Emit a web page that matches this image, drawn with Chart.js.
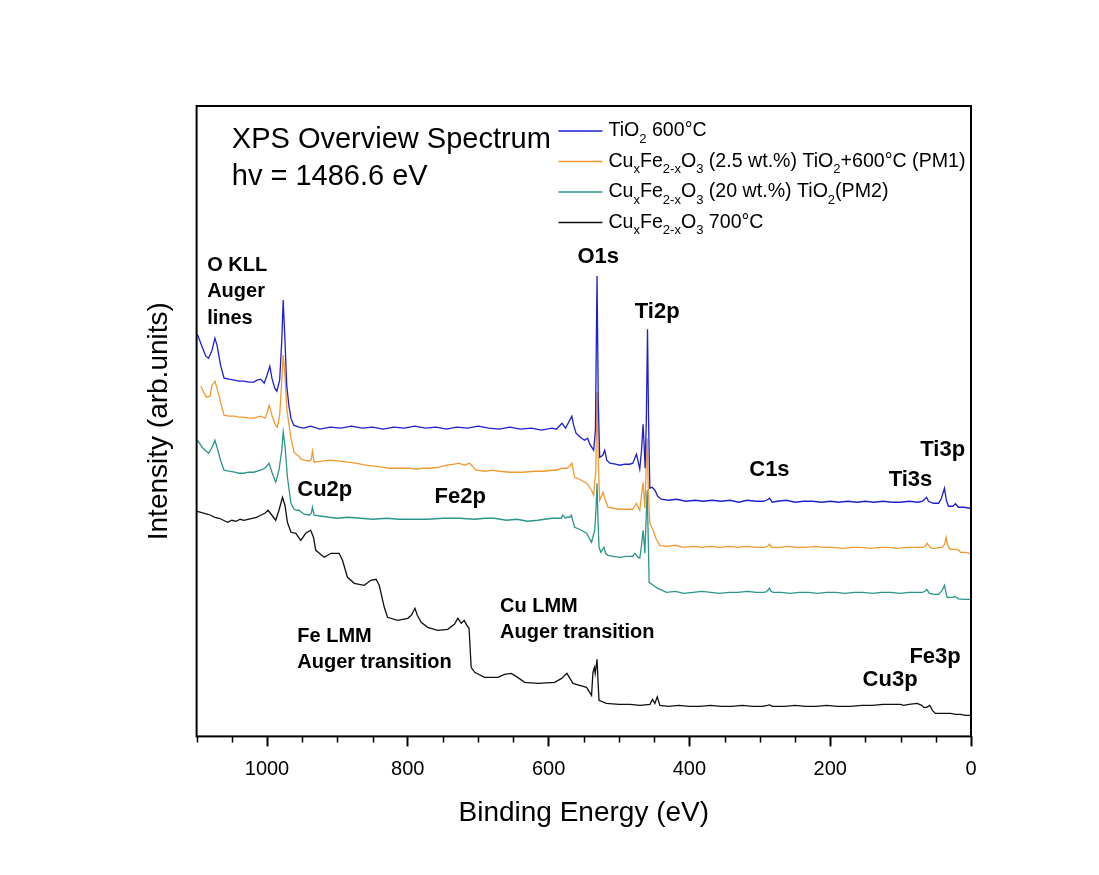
<!DOCTYPE html>
<html>
<head>
<meta charset="utf-8">
<title>XPS Overview Spectrum</title>
<script src="https://cdn.jsdelivr.net/npm/chart.js@4.4.1/dist/chart.umd.min.js"></script>
<style>
  html, body { margin: 0; padding: 0; background: #fff; }
  canvas { display: block; }
</style>
</head>
<body>
<canvas id="chart" width="1099" height="875"></canvas>
<script>
// spectra as [binding energy (eV), intensity (arb. units)]
const tio2_600 = [
  [1099,402],[1093,391],[1087,380],[1083,378],[1078,386],[1074,398],[1071,391],[1066,371],[1061,358],
  [1054,357],[1046,356],[1040,355],[1033,355],[1026,354],[1019,354],[1014,356],[1009,357],[1004,353],
  [1000,361],[996,370],[993,358],[989,348],[986,345],[982,356],[979,396],[977,436],[974.5,396],[972,351],
  [969,331],[966,318],[962,311],[955,309],[948,308],[938,310],[925,307],[910,309],[895,308],[880,310],
  [865,308],[850,309],[835,307],[820,309],[805,308],[790,310],[775,308],[760,309],[745,307],[730,309],
  [715,308],[700,310],[685,308],[670,307],[655,309],[640,307],[625,308],[610,306],[595,308],[589,307],
  [581,313],[576,308],[571.5,314],[567,320],[564.5,311],[561,303],[555,299],[549,296],[544.5,298],
  [541.5,292],[536,286],[533.5,306],[531.2,460],[529.5,336],[527.4,279],[523,281],[520.3,286],[517.4,276],
  [513,273],[505,272],[499,271],[492,272],[485,272],[480.4,273],[475.2,282],[472.6,274],[470.5,267],
  [468,286],[465.8,312],[464,286],[462.9,268],[461.2,316],[459.5,407],[458,316],[456.2,248],[453,249],
  [449,246],[445,240],[440,237],[430,236],[418,237],[405,235],[392,236],[380,235],[368,236],[355,235],
  [342,236],[330,234],[318,236],[305,235],[295,235],[291,236],[288,237],[286.4,238],[284,236],[282.6,234],
  [275,235],[262,236],[250,234],[238,235],[225,235],[212,234],[200,235],[188,234],[175,235],[162,234],
  [150,235],[138,234],[125,235],[112,234],[100,234],[88,235],[75,234],[69,235],[66,237],[63,239],
  [60.5,235],[53.4,233],[46,233],[42,238],[37.7,248],[35,236],[32,230],[26,230],[22,232.5],[17.8,229],
  [10.7,229],[2,228],[0,228]
];

const cufe_pm1 = [
  [1094,350],[1090,344],[1086,339],[1081,340],[1078,351],[1074,355],[1071,348],[1066,334],[1061,321],
  [1054,320],[1046,320],[1040,319],[1033,319],[1026,318],[1019,318],[1014,319],[1008,320],[1003,318],
  [999.6,324],[997,331],[993,321],[988.6,312],[985.3,309],[982,321],[979,356],[977,381],[974.5,361],
  [971.7,326],[966,298],[961.6,284],[957,281],[954.5,280],[951.6,277],[947,276],[940,275],[937,277],
  [935.5,285],[933,274],[922,275],[910,276],[897,275],[885,274],[874,273],[860,271],[848,270],[836,269],
  [826,268],[812,268],[798,268],[788,267],[779,268],[767,268],[755,269],[745,271],[734,272],[727,273],
  [720,271],[712,273],[703,266],[690,265],[680,266],[670,265],[655,264],[637,264],[620,265],[606,265],
  [595,266],[589,266],[580.5,268],[574,268],[570,270],[567,273],[563,259],[556,257],[546,253],[539,246],
  [536,241],[533,266],[531.2,344],[529.5,276],[527.4,236],[522.7,244],[520.3,238],[515.6,229],[508,228],
  [499,227],[490,227],[480.4,227],[475.2,233],[470.5,226],[468,241],[465.8,254],[463.3,228],[461.5,266],
  [460,298],[458.4,246],[456.2,213],[451.5,206],[447.7,198],[442,191],[432,190],[420,191],[408,189],
  [395,190],[382,189],[370,190],[357,189],[344,190],[331,189],[318,190],[305,189],[294,189],[289,190],
  [286.4,192],[283,189],[272,189],[260,190],[247,189],[234,189],[221,190],[208,189],[195,189],[182,188],
  [169,189],[156,189],[143,188],[130,189],[117,189],[104,188],[91,189],[78,189],[69,189],[65,190],
  [62.3,193],[59,189.5],[55,188],[50.5,188],[44,189],[40.6,189],[37.5,192],[35.3,199],[33.5,192],
  [32,189],[29,187],[24,187],[20.6,187],[17,186],[15,184],[8,184],[2,183],[0,183]
];

const cufe_pm2 = [
  [1099,296],[1091,288],[1083,283],[1078,289],[1074,296],[1071,289],[1066,276],[1061,266],[1054,265],
  [1046,264],[1040,263],[1033,263],[1026,264],[1019,264],[1009,266],[1003,268],[997,273],[993,264],
  [987.6,254],[983,266],[979,286],[977,304],[974.5,291],[971,259],[966,233],[961.6,227],[957,226],
  [954.5,226],[951,224],[947,222],[940,221],[937,223],[935.5,229],[933,221],[922,220],[912,219],[900,218],
  [885,219],[867,218],[850,217],[830,218],[812,217],[795,217],[772,217],[750,218],[727,218],[705,217],
  [690,218],[677,218],[660,216],[645,217],[630,215],[615,216],[606,217],[595,218],[582,218],[580,221],
  [576,218],[574,219],[570,219],[567.7,221],[563,209],[556,207],[546,203],[539,194],[534.5,206],
  [532.7,226],[531.2,253],[529.8,216],[528.4,189],[525.7,184],[521.3,189],[519,183],[515.6,181],[508,180],
  [499,179],[490,180],[480.4,180],[477.6,183],[473,179],[470.5,178],[468,191],[465.8,206],[464,191],
  [463.3,183],[461.5,216],[460,246],[458.4,196],[457.2,154],[451.5,151],[444.8,148],[432.5,144],
  [420,145],[408,143],[395,144],[382,145],[370,144],[357,143],[344,144],[331,144],[318,145],[305,144],
  [295,144],[291,144.5],[288.5,146],[286.4,148],[284,145],[281,144],[270,144],[257,143],[244,144],
  [231,144],[218,143],[205,144],[192,144],[179,143],[166,144],[153,144],[140,143],[127,144],[114,144],
  [101,143],[88,144],[75,144],[69,144],[65.5,145],[63,147],[59,143],[52,142],[46,142],[41,146],
  [37.7,151],[35.5,144],[34,139],[27.8,139],[25,139],[23,140],[17.8,137.5],[10,137],[2,137],[0,137]
];

const cufe_700 = [
  [1099,225],[1094,224],[1089,223],[1084,222],[1080,221],[1074,219],[1068,218],[1062,216],[1056,214],
  [1050,216],[1044,215],[1038,217],[1033,216],[1027,217],[1021,218],[1015,219],[1009,221],[1003,223],
  [998.5,226],[993,221],[987.6,216],[983,226],[978,239],[974.5,231],[971,214],[966,204],[959,203],
  [952,196],[945,203],[938,206],[934,199],[930.7,186],[918.8,179],[909,183],[897.5,183],[892.8,176],
  [885.7,159],[876,153],[862,151],[852.4,156],[845,157],[840.6,151],[833.4,129],[828.8,119],[814.5,116],
  [800,118],[795,121],[789.8,128],[786.5,121],[781,114],[771.8,109],[757.6,106],[743.4,107],[733.8,112],
  [729,118],[724,113],[720,116],[716,111],[713,108],[710,69],[705,64],[691,59],[672,59],[662.6,62],
  [653,63],[644,59],[634,54],[615,53],[591.5,54],[581.5,58],[574,63],[565.4,53],[556,51],[546,49],
  [539,41],[537,64],[535,69],[533.8,63],[531.2,77],[529.5,51],[528.4,36],[518,33],[500,32],[484.7,32],
  [470,31],[456,32],[452.4,37],[449,33],[445.6,39.5],[442,31],[430,30],[415,31],[400,30],[385,30],
  [370,31],[355,30],[340,30],[325,31],[310,30],[296,30],[289,31],[286.4,31.5],[282,30],[265,30],
  [250,31],[235,30],[220,30],[205,31],[190,30],[171.5,30],[155,31],[140,31],[125,32],[110,32],
  [100,32],[96,31],[88,32],[76.6,33],[70,31],[67,29],[63,29],[58.6,31],[54.8,26],[50.5,23],[44,23],
  [38.7,23],[29,23],[22,22],[15,22],[8,21],[2,21],[0,21]
];

// legend text, "_{..}" marks a subscript
const seriesLabels = [
  'TiO_{2} 600°C',
  'Cu_{x}Fe_{2-x}O_{3} (2.5 wt.%) TiO_{2}+600°C (PM1)',
  'Cu_{x}Fe_{2-x}O_{3} (20 wt.%) TiO_{2}(PM2)',
  'Cu_{x}Fe_{2-x}O_{3} 700°C'
];
const seriesColors = ['#1e1ed2', '#f29a30', '#2a958b', '#111111'];

const xTickValues = [0, 200, 400, 600, 800, 1000];
const xMinorTicks = [50, 100, 150, 250, 300, 350, 450, 500, 550, 650, 700, 750, 850, 900, 950, 1050, 1100];

const FONT = "'Liberation Sans', Arial, Helvetica, sans-serif";

// peak / transition labels placed at (binding energy, intensity)
const peakLabels = [
  { lines: ['O KLL', 'Auger', 'lines'], at: [1085, 471], size: 20 },
  { lines: ['O1s'], at: [559, 479], size: 22 },
  { lines: ['Ti2p'], at: [477.6, 424], size: 22 },
  { lines: ['C1s'], at: [315, 266], size: 22 },
  { lines: ['Ti3s'], at: [117, 256], size: 22 },
  { lines: ['Ti3p'], at: [72, 286], size: 22 },
  { lines: ['Cu2p'], at: [957, 246], size: 22 },
  { lines: ['Fe2p'], at: [762, 239], size: 22 },
  { lines: ['Fe LMM', 'Auger transition'], at: [957, 100], size: 20 },
  { lines: ['Cu LMM', 'Auger transition'], at: [669, 130], size: 20 },
  { lines: ['Fe3p'], at: [87.5, 79], size: 22 },
  { lines: ['Cu3p'], at: [154, 56], size: 22 }
];
const titleLines = ['XPS Overview Spectrum', 'hv = 1486.6 eV'];
const titleAt = [1050, 596];
const legendAt = [586, 605];

function drawRich(ctx, text, x, y, size) {
  const parts = text.split(/_\{([^}]*)\}/);
  let cx = x;
  parts.forEach((p, i) => {
    if (!p) return;
    const sub = i % 2 === 1;
    ctx.font = (sub ? Math.round(size * 0.64) : size) + 'px ' + FONT;
    ctx.fillText(p, cx, sub ? y + 8 : y);
    cx += ctx.measureText(p).width;
  });
}

const decorations = {
  id: 'decorations',
  afterDraw(chart) {
    const { ctx, chartArea: a, scales: { x, y } } = chart;
    ctx.save();

    // plot frame
    ctx.strokeStyle = '#000';
    ctx.lineWidth = 2;
    ctx.strokeRect(a.left, a.top, a.right - a.left, a.bottom - a.top);

    // minor ticks on the energy axis
    ctx.lineWidth = 1.5;
    ctx.beginPath();
    xMinorTicks.forEach(v => {
      const px = Math.round(x.getPixelForValue(v)) + 0.5;
      ctx.moveTo(px, a.bottom);
      ctx.lineTo(px, a.bottom + 6);
    });
    ctx.stroke();

    ctx.fillStyle = '#000';
    ctx.textAlign = 'left';
    ctx.textBaseline = 'middle';

    // title
    ctx.font = '29px ' + FONT;
    titleLines.forEach((t, i) => {
      ctx.fillText(t, x.getPixelForValue(titleAt[0]), y.getPixelForValue(titleAt[1]) + i * 37);
    });

    // peak labels
    peakLabels.forEach(l => {
      ctx.font = 'bold ' + l.size + 'px ' + FONT;
      const px = x.getPixelForValue(l.at[0]);
      const py = y.getPixelForValue(l.at[1]);
      l.lines.forEach((t, i) => ctx.fillText(t, px, py + i * 26.5));
    });

    // legend
    const lx = x.getPixelForValue(legendAt[0]);
    const ly = y.getPixelForValue(legendAt[1]);
    chart.data.datasets.forEach((ds, i) => {
      const ry = ly + i * 30.5;
      ctx.strokeStyle = ds.borderColor;
      ctx.lineWidth = 1.3;
      ctx.beginPath();
      ctx.moveTo(lx, ry);
      ctx.lineTo(lx + 44, ry);
      ctx.stroke();
      ctx.fillStyle = '#000';
      drawRich(ctx, ds.label, lx + 50, ry, 19.6);
    });

    ctx.restore();
  }
};

const spectra = [tio2_600, cufe_pm1, cufe_pm2, cufe_700];

new Chart(document.getElementById('chart').getContext('2d'), {
  type: 'line',
  data: {
    datasets: spectra.map((s, i) => ({
      label: seriesLabels[i],
      data: s.map(([e, v]) => ({ x: e, y: v })),
      borderColor: seriesColors[i],
      borderWidth: 1.3,
      pointRadius: 0,
      tension: 0,
      fill: false
    }))
  },
  options: {
    responsive: false,
    animation: false,
    devicePixelRatio: 1,
    layout: { padding: { top: 106, right: 128, bottom: 45, left: 142 } },
    plugins: { legend: { display: false }, tooltip: { enabled: false } },
    font: { family: FONT },
    scales: {
      x: {
        type: 'linear',
        reverse: true,
        min: 0,
        max: 1100,
        afterBuildTicks: scale => { scale.ticks = xTickValues.map(v => ({ value: v })); },
        grid: { drawOnChartArea: false, drawTicks: true, tickLength: 10, tickWidth: 2, color: '#000' },
        border: { display: false },
        ticks: {
          color: '#000', font: { size: 20, family: FONT }, padding: 11, maxRotation: 0,
          callback: v => String(v)
        },
        title: {
          display: true, text: 'Binding Energy (eV)', color: '#000',
          font: { size: 28, family: FONT }, padding: { top: 4, bottom: 0 }
        }
      },
      y: {
        min: 0,
        max: 630,
        grid: { display: false, drawTicks: false },
        border: { display: false },
        ticks: { display: false },
        title: {
          display: true, text: 'Intensity (arb.units)', color: '#000',
          font: { size: 28, family: FONT }, padding: { top: 0, bottom: 21 }
        }
      }
    }
  },
  plugins: [decorations]
});
</script>
</body>
</html>
